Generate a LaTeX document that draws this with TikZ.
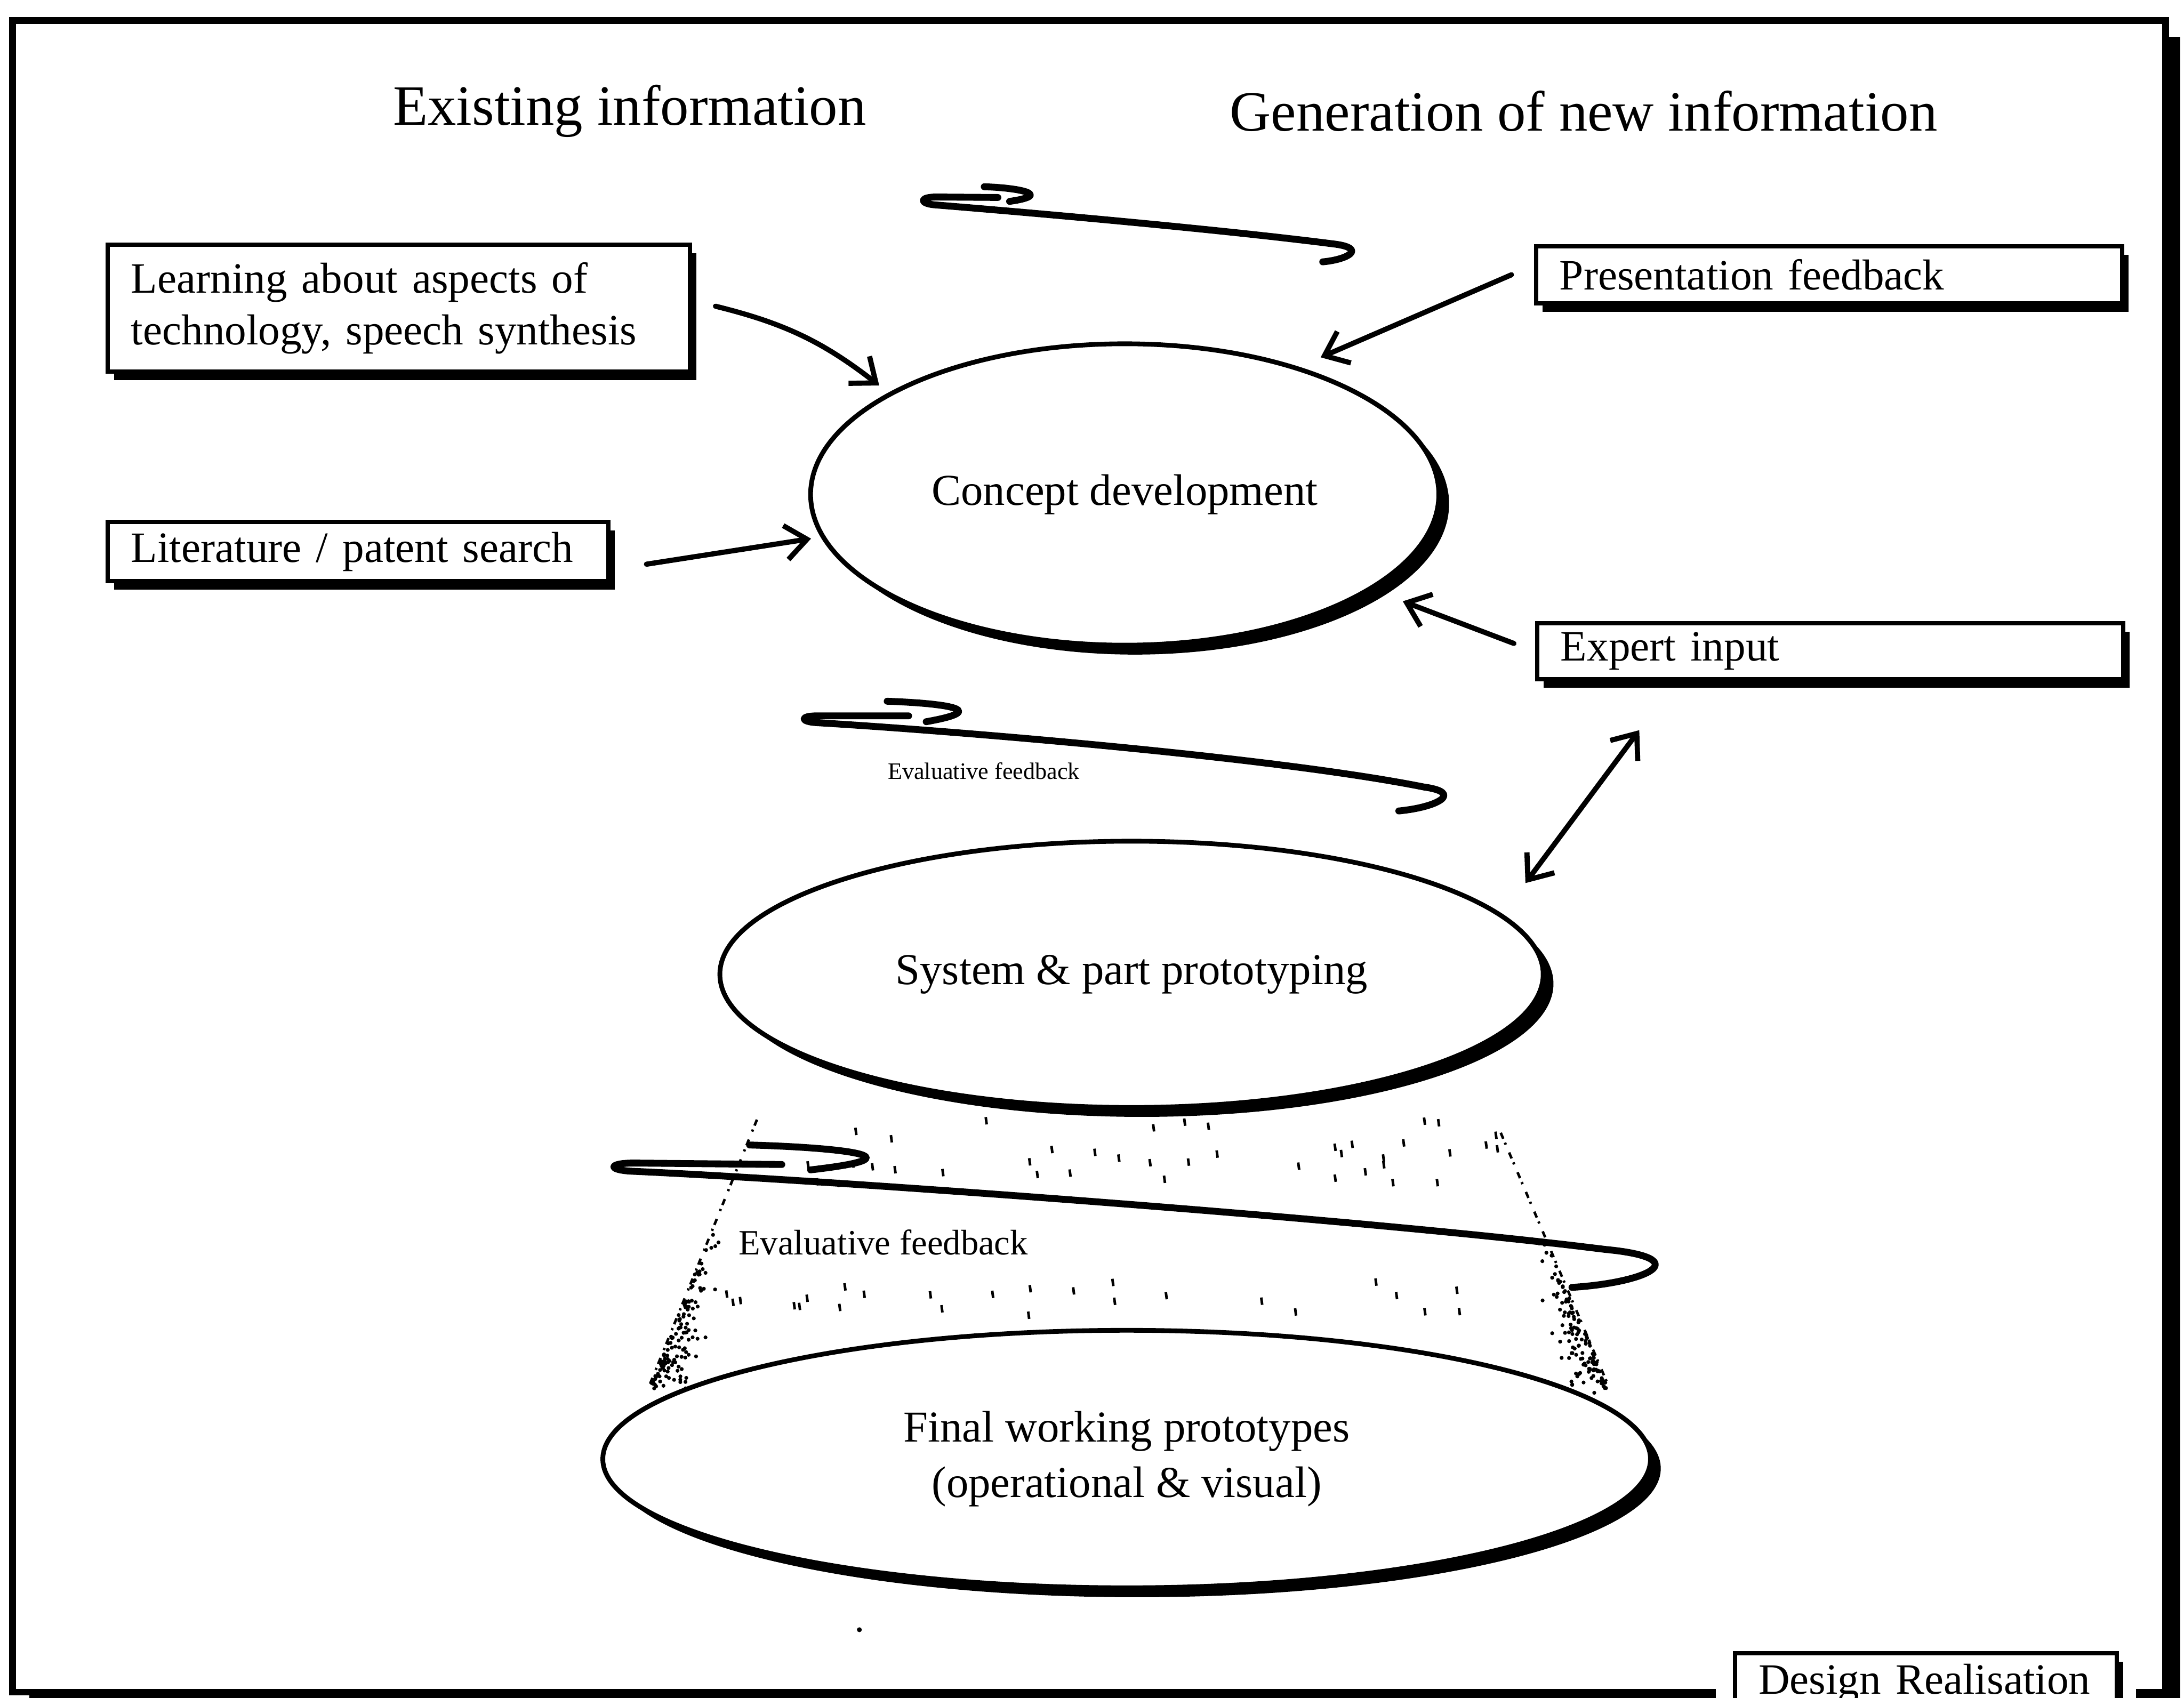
\documentclass[tikz,border=0pt]{standalone}
\usepackage{fontspec}
\setmainfont{Liberation Serif}
\usepackage{tikz}
\usetikzlibrary{arrows.meta,shapes.geometric,shadows,positioning}
\tikzset{>={Straight Barb[length=5pt,width=8pt]}}

\begin{document}
\begin{tikzpicture}[x=0.4cm,y=-0.4cm,
              infobox/.style={draw, line width=1pt, fill=white, inner xsep=5.5pt, inner ysep=2pt, align=left, anchor=west, font=\fontsize{10.1}{12}\selectfont, drop shadow={shadow xshift=1.5pt, shadow yshift=-2pt, fill=black, opacity=1}},
              stage/.style={ellipse, draw, line width=1.1pt, fill=white, inner sep=0pt, align=center, font=\fontsize{10.3}{13}\selectfont, drop shadow={shadow xshift=2.4pt, shadow yshift=-2.2pt, fill=black, opacity=1}},
              heading/.style={font=\fontsize{13.3}{16}\selectfont},
              conn/.style={line width=1.2pt, ->, line cap=round},
              swirl/.style={line width=1.6pt, line cap=round, line join=round},
              speck/.style={line width=0.6pt, black},
             ]

\useasboundingbox (0,0) rectangle (44.78,34.82);

% frame with its shadow
\fill[black] (0.60,0.75) rectangle (44.70,35.50);
\draw[line width=1.6pt, fill=white] (0.26,0.42) rectangle (44.40,34.70);
\fill[white] (35.18,33.55) rectangle (43.80,35.50);

% shaded cone between the lower stages
\draw[speck, dash pattern=on 1.5pt off 1pt on 0.5pt off 2pt] (15.52,22.96) -- (13.32,28.40);
\draw[speck, dash pattern=on 1.5pt off 1pt on 0.5pt off 2pt] (30.77,23.23) -- (32.97,28.40);
\pgfmathsetseed{42}
\foreach \k in {1,...,130}{
  \pgfmathsetmacro{\p}{0.35+0.65*sqrt(rnd)}
  \pgfmathsetmacro{\q}{0.9*rnd*rnd*\p}
  \fill ({15.52-2.2*\p+\q},{22.96+5.44*\p+0.2*rnd}) circle (0.04);
  \fill ({30.77+2.2*\p-\q},{23.23+5.17*\p+0.2*rnd}) circle (0.04);
}
\foreach \k in {1,...,40}{
  \pgfmathsetmacro{\sx}{16.2+14.5*rnd}
  \pgfmathsetmacro{\sy}{22.9+1.3*rnd}
  \draw[speck] (\sx,\sy) -- ++(0.02,0.15);
}
\foreach \k in {1,...,25}{
  \pgfmathsetmacro{\sx}{14.8+15.5*rnd}
  \pgfmathsetmacro{\sy}{26.2+0.7*rnd}
  \draw[speck] (\sx,\sy) -- ++(0.02,0.15);
}
\fill (17.62,33.42) circle (0.05);

\node[heading] (existing) at (12.91,2.28) {Existing information};
\node[heading] (newinfo) at (32.47,2.28) {Generation of new information};

\node[stage, minimum width=5.152cm, minimum height=2.472cm] (concept) at (23.06,10.14) {Concept development};
\node[stage, minimum width=6.752cm, minimum height=2.184cm] (system) at (23.20,19.98) {System \& part prototyping};
\node[stage, minimum width=8.592cm, minimum height=2.112cm] (final) at (23.10,29.92) {Final working prototypes\\(operational \& visual)};

\node[infobox, text width=4.39cm, minimum height=1.04cm] (learn) at (2.16,6.32) {Learning about aspects of\\technology, speech synthesis};
\node[infobox, text width=3.72cm, minimum height=0.488cm] (lit) at (2.16,11.31) {Literature / patent search};
\node[infobox, text width=4.42cm, minimum height=0.468cm] (present) at (31.45,5.635) {Presentation feedback};
\node[infobox, text width=4.42cm, minimum height=0.46cm] (expert) at (31.47,13.355) {Expert input};
\node[infobox, anchor=north west, text width=2.745cm, minimum height=0.5cm] (design) at (35.53,33.86) {Design Realisation};

% feedback loops
\draw[swirl] (27.12,5.37) .. controls (27.65,5.32) and (28.0,5.10) .. (27.40,5.01)
  .. controls (25.0,4.70) and (21.0,4.35) .. (19.15,4.20)
  .. controls (18.85,4.17) and (18.85,4.04) .. (19.20,4.04) -- (20.46,4.05);
\draw[swirl] (20.18,3.83) .. controls (20.9,3.85) and (21.6,4.0) .. (20.70,4.13);

\draw[swirl] (28.68,16.63) .. controls (29.5,16.55) and (30.0,16.25) .. (29.20,16.14)
  .. controls (26.0,15.5) and (19.0,14.95) .. (16.75,14.82)
  .. controls (16.40,14.80) and (16.40,14.68) .. (16.75,14.68) -- (18.63,14.68);
\draw[swirl] (18.19,14.38) .. controls (19.3,14.42) and (20.4,14.55) .. (18.99,14.80);
\node[font=\fontsize{5.5}{6}\selectfont] (evalA) at (20.17,15.81) {Evaluative feedback};

\draw[swirl] (32.23,26.40) .. controls (33.8,26.3) and (34.8,25.8) .. (32.9,25.62)
  .. controls (28.0,25.0) and (17.0,24.2) .. (13.0,24.02)
  .. controls (12.45,24.0) and (12.45,23.85) .. (13.0,23.85) -- (16.03,23.88);
\draw[swirl] (15.37,23.48) .. controls (16.9,23.52) and (19.15,23.7) .. (16.62,23.99);
\node[font=\fontsize{8.3}{9}\selectfont] (evalB) at (18.11,25.48) {Evaluative feedback};

% inputs
\draw[conn] ([shift={(0.48,-0.04)}]learn.east) to[bend left=12] ([shift={(-0.26,-0.11)}]concept.156);
\draw[conn] ([shift={(0.74,0.26)}]lit.east) -- ([shift={(-0.20,0.03)}]concept.188);
\draw[conn] ([shift={(-0.46,0)}]present.west) -- ([shift={(0.33,-0.23)}]concept.35);
\draw[conn] ([shift={(-0.43,-0.16)}]expert.west) -- ([shift={(0.62,0.24)}]concept.-21);
\draw[conn, <->] ([shift={(2.14,1.0)}]expert.south west) -- ([shift={(1.14,-0.27)}]system.13);
\end{tikzpicture}
\end{document}
